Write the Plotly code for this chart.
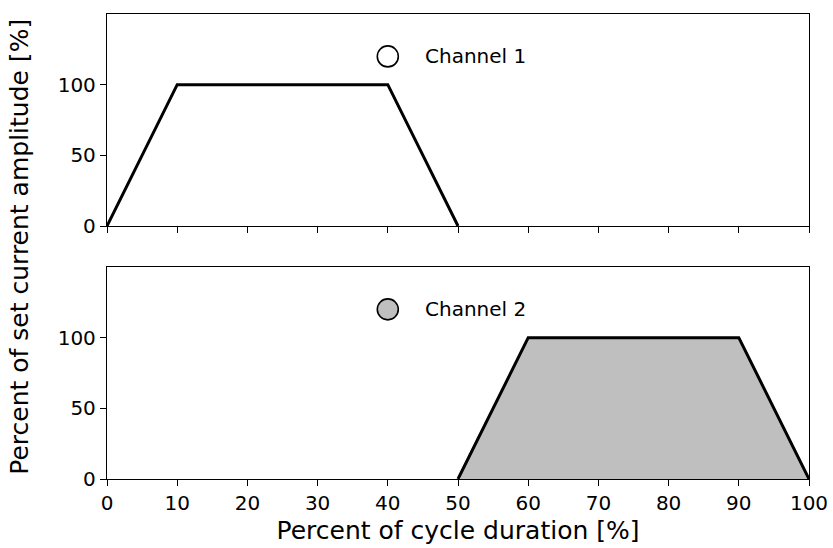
import plotly.graph_objects as go
from plotly.subplots import make_subplots

ch1_x = [0, 10, 40, 50]
ch1_y = [0, 100, 100, 0]
ch2_x = [50, 60, 90, 100]
ch2_y = [0, 100, 100, 0]
marker_x = 40
marker_y = 120
label_x = 45
labels = ["Channel 1", "Channel 2"]
x_ticks = [0, 10, 20, 30, 40, 50, 60, 70, 80, 90, 100]
y_ticks = [0, 50, 100]

font = "DejaVu Sans"
fig = make_subplots(rows=2, cols=1, shared_xaxes=False, vertical_spacing=0.088)

fig.add_trace(go.Scatter(x=ch1_x, y=ch1_y, mode="lines",
                         line=dict(color="black", width=3), showlegend=False), row=1, col=1)
fig.add_trace(go.Scatter(x=ch2_x, y=ch2_y, mode="lines", fill="toself",
                         fillcolor="#bfbfbf",
                         line=dict(color="black", width=3), showlegend=False), row=2, col=1)
fig.add_trace(go.Scatter(x=[marker_x], y=[marker_y], mode="markers",
                         marker=dict(size=21, color="white", line=dict(color="black", width=1.6)),
                         showlegend=False), row=1, col=1)
fig.add_trace(go.Scatter(x=[marker_x], y=[marker_y], mode="markers",
                         marker=dict(size=21, color="#bfbfbf", line=dict(color="black", width=1.6)),
                         showlegend=False), row=2, col=1)

fig.add_annotation(x=label_x, y=marker_y, text=labels[0], xref="x", yref="y",
                   xanchor="left", yanchor="middle", showarrow=False,
                   font=dict(size=20, family=font, color="black"))
fig.add_annotation(x=label_x, y=marker_y, text=labels[1], xref="x2", yref="y2",
                   xanchor="left", yanchor="middle", showarrow=False,
                   font=dict(size=20, family=font, color="black"))

axis_common = dict(showline=True, linecolor="black", linewidth=1.3, mirror=True,
                   ticks="outside", ticklen=6, tickwidth=1.3, tickcolor="black",
                   showgrid=False, zeroline=False, automargin=False,
                   tickfont=dict(size=20, family=font, color="black"))

fig.update_xaxes(range=[0, 100], tickvals=x_ticks, **axis_common)
fig.update_xaxes(showticklabels=False, row=1, col=1)
fig.update_xaxes(title=dict(text="Percent of cycle duration [%]",
                            font=dict(size=25, family=font, color="black"), standoff=7),
                 row=2, col=1)
fig.update_yaxes(range=[0, 150], tickvals=y_ticks, **axis_common)

fig.add_annotation(text="Percent of set current amplitude [%]", textangle=-90,
                   xref="paper", yref="paper", x=-0.125, y=0.5,
                   xanchor="center", yanchor="middle", showarrow=False,
                   font=dict(size=25, family=font, color="black"))

fig.update_layout(
    width=833, height=548,
    margin=dict(l=107, r=24, t=14, b=69, autoexpand=False),
    plot_bgcolor="white", paper_bgcolor="white",
    font=dict(family=font, color="black"),
)

fig.write_html("out.html", config={"displayModeBar": False},
               post_script="document.body.style.margin='0';")
